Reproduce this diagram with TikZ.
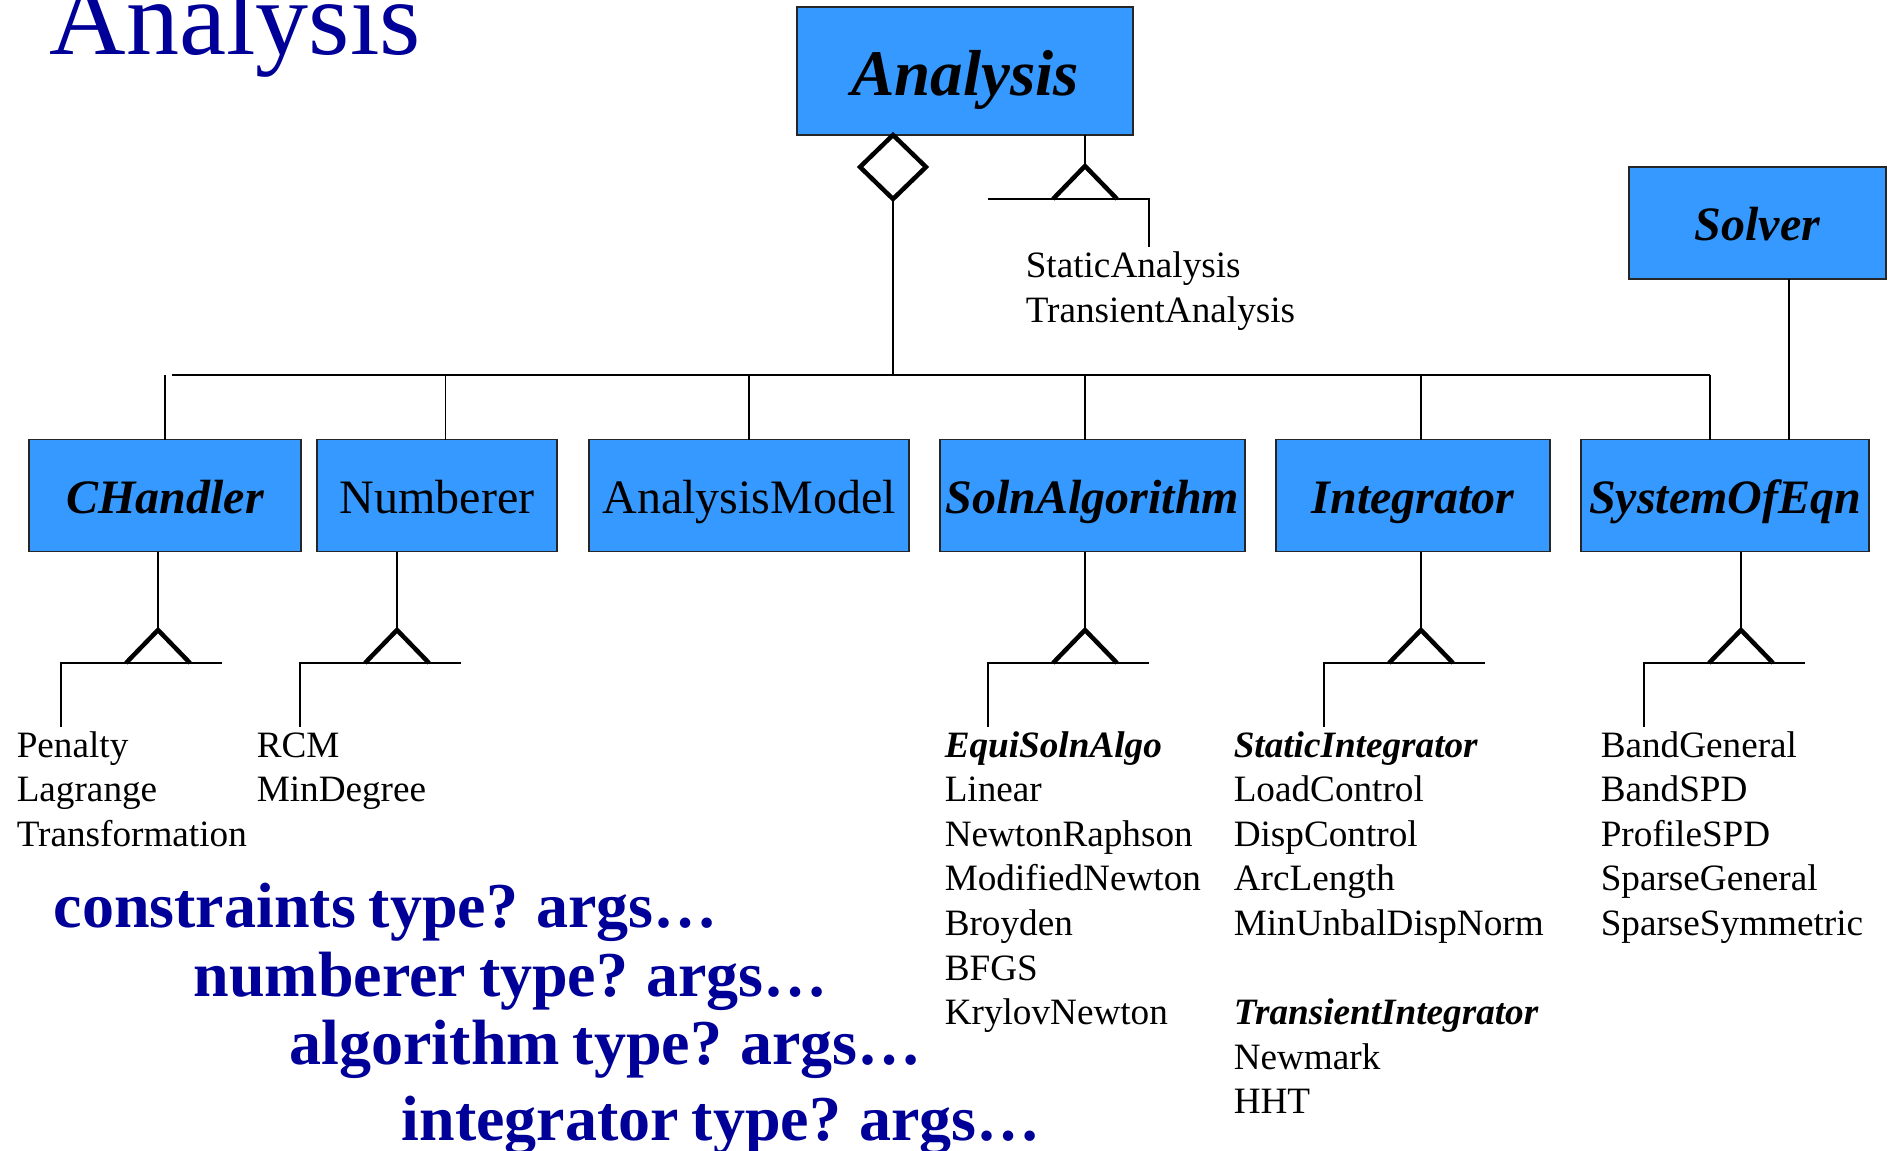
\documentclass[tikz,border=0pt]{standalone}
\usepackage{fontspec}
\setmainfont{Liberation Serif}
\usepackage{tikz}
\usetikzlibrary{shapes.geometric}
\definecolor{clsblue}{RGB}{54,153,255}
\definecolor{cmdblue}{RGB}{0,0,153}
\newcommand{\cmdspacing}{\spaceskip=0.2em\relax}
\tikzstyle{cls}=[draw=black!85, fill=clsblue, line width=1.6pt, inner sep=0, outer sep=0,
                 minimum height=112pt, text height=35.5pt, text depth=0pt,
                 font=\fontsize{48}{58}\selectfont]
\tikzstyle{acls}=[cls, font=\fontsize{48}{58}\selectfont\bfseries\itshape]
\tikzstyle{genarrow}=[line width=4.5pt, line join=miter]
% lists are placed at the baseline of their last line
\tikzstyle{sublist}=[anchor=base west, align=left, inner sep=0, font=\fontsize{37.2}{44.6}\selectfont]
\tikzstyle{cmd}=[anchor=base west, inner sep=0, text=cmdblue, font=\fontsize{64}{70}\selectfont\bfseries\cmdspacing]
\tikzstyle{umldiagram}=[x=1pt, y=-1pt, line width=1.5pt]
\begin{document}
\begin{tikzpicture}[umldiagram]
    \useasboundingbox (0,0) rectangle (1888,1151);
    \node[anchor=base west, inner sep=0, text=cmdblue, font=\fontsize{106}{120}\selectfont] (title) at (49,54) {Analysis};
    % classes
    \node[acls, minimum width=336pt, minimum height=128pt, text height=48pt,
          font=\fontsize{65}{78}\selectfont\bfseries\itshape] (Analysis) at (965,71) {Analysis};
    \node[acls, minimum width=257pt] (Solver) at (1757.5,223) {Solver};
    \node[acls, minimum width=272pt] (CHandler) at (165,495.5) {CHandler};
    \node[cls, minimum width=240pt] (Numberer) at (437,495.5) {Numberer};
    \node[cls, minimum width=320pt] (AnalysisModel) at (749,495.5) {AnalysisModel};
    \node[acls, minimum width=305pt] (SolnAlgorithm) at (1092.5,495.5) {SolnAlgorithm};
    \node[acls, minimum width=274pt] (Integrator) at (1413,495.5) {Integrator};
    \node[acls, minimum width=288pt] (SystemOfEqn) at (1725,495.5) {SystemOfEqn};
    % aggregation
    \node[diamond, draw, line width=4.5pt, inner sep=0, outer sep=0, fill=white,
          minimum width=66pt, minimum height=64pt] (agg) at (893,167) {};
    \coordinate (busW) at (172,375);
    \coordinate (busE) at (1710,375);
    \coordinate (j2) at (445.5,375);
    \coordinate (j3) at (749,375);
    \coordinate (j4) at (1085,375);
    \coordinate (j5) at (1421,375);
    \draw (busW) -- (busE);
    \draw (agg.south) -- (agg.south |- busW);
    \draw (CHandler.north) -- (CHandler.north |- busW);
    \draw (j2) -- (j2 |- Numberer.north);
    \draw (j3) -- (j3 |- AnalysisModel.north);
    \draw (j4) -- (j4 |- SolnAlgorithm.north);
    \draw (j5) -- (j5 |- Integrator.north);
    \draw (busE) -- (busE |- SystemOfEqn.north);
    \draw ([xshift=31.5pt]Solver.south) -- ([xshift=31.5pt]Solver.south |- SystemOfEqn.north);
    % subclasses of Analysis
    \coordinate (gA) at (1085,166);
    \draw (Analysis.south -| gA) -- (gA);
    \draw[genarrow] (gA) +(-32,33) -- (gA) -- +(32,33);
    \draw (gA) +(-97,33) -- +(64,33) -- +(64,81);
    \node[sublist, font=\fontsize{37.2}{45}\selectfont] (anTypes) at (1025,322) {StaticAnalysis\\TransientAnalysis};
    % subclasses of the components
    \coordinate (g1) at (158,630);
    \coordinate (g2) at (397,630);
    \coordinate (g3) at (1085,630);
    \coordinate (g4) at (1421,630);
    \coordinate (g5) at (1741,630);
    \draw (CHandler.south -| g1) -- (g1);
    \draw (Numberer.south -| g2) -- (g2);
    \draw (SolnAlgorithm.south -| g3) -- (g3);
    \draw (Integrator.south -| g4) -- (g4);
    \draw (SystemOfEqn.south -| g5) -- (g5);
    \draw[genarrow] (g1) +(-32,33) -- (g1) -- +(32,33);
    \draw[genarrow] (g2) +(-32,33) -- (g2) -- +(32,33);
    \draw[genarrow] (g3) +(-32,33) -- (g3) -- +(32,33);
    \draw[genarrow] (g4) +(-32,33) -- (g4) -- +(32,33);
    \draw[genarrow] (g5) +(-32,33) -- (g5) -- +(32,33);
    \draw (g1) +(64,33) -- +(-97,33) -- +(-97,97);
    \draw (g2) +(64,33) -- +(-97,33) -- +(-97,97);
    \draw (g3) +(64,33) -- +(-97,33) -- +(-97,97);
    \draw (g4) +(64,33) -- +(-97,33) -- +(-97,97);
    \draw (g5) +(64,33) -- +(-97,33) -- +(-97,97);
    \node[sublist] (chTypes) at (16,846.2) {Penalty\\Lagrange\\Transformation};
    \node[sublist] (nbTypes) at (256,801.6) {RCM\\MinDegree};
    \node[sublist] (saTypes) at (944,1024.6) {\textbf{\textit{EquiSolnAlgo}}\\Linear\\NewtonRaphson\\ModifiedNewton\\Broyden\\BFGS\\KrylovNewton};
    \node[sublist] (inTypes) at (1233,1113.8) {\textbf{\textit{StaticIntegrator}}\\LoadControl\\DispControl\\ArcLength\\MinUnbalDispNorm\\[44.6pt]\textbf{\textit{TransientIntegrator}}\\Newmark\\HHT};
    \node[sublist] (soeTypes) at (1600,935.4) {BandGeneral\\BandSPD\\ProfileSPD\\SparseGeneral\\SparseSymmetric};
    % commands
    \node[cmd] (cmdC) at (53,927) {constraints type? args…};
    \node[cmd] (cmdN) at (193,996) {numberer type? args…};
    \node[cmd] (cmdA) at (289,1064) {algorithm type? args…};
    \node[cmd] (cmdI) at (401,1140) {integrator type? args…};
\end{tikzpicture}
\end{document}
